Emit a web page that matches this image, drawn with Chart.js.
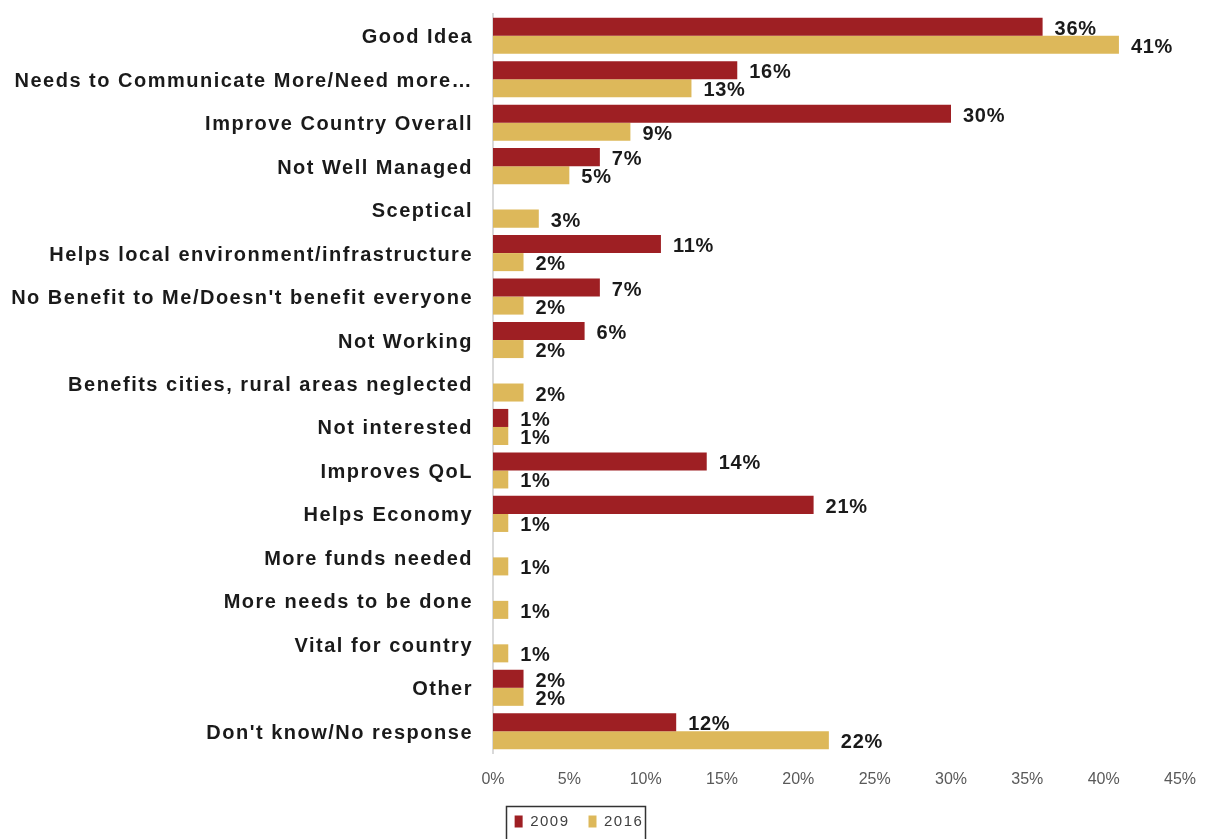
<!DOCTYPE html>
<html>
<head>
<meta charset="utf-8">
<script src="https://cdn.jsdelivr.net/npm/chart.js@4/dist/chart.umd.min.js"></script>
<style>
  html, body { margin: 0; padding: 0; background: #ffffff; }
  #wrap { width: 1205px; height: 839px; }
</style>
</head>
<body>
<div id="wrap"><canvas id="chart" width="1205" height="839"></canvas></div>
<script>
// Survey answers, one row per response category
const categories = [
  'Good Idea',
  'Needs to Communicate More/Need more\u2026',
  'Improve Country Overall',
  'Not Well Managed',
  'Sceptical',
  'Helps local environment/infrastructure',
  "No Benefit to Me/Doesn't benefit everyone",
  'Not Working',
  'Benefits cities, rural areas neglected',
  'Not interested',
  'Improves QoL',
  'Helps Economy',
  'More funds needed',
  'More needs to be done',
  'Vital for country',
  'Other',
  "Don't know/No response"
];

// Share of respondents (%) per year; null = no answer in that year
const values2009 = [36, 16, 30, 7, null, 11, 7, 6, null, 1, 14, 21, null, null, null, 2, 12];
const values2016 = [41, 13, 9, 5, 3, 2, 2, 2, 2, 1, 1, 1, 1, 1, 1, 2, 22];

const seriesNames = ['2009', '2016'];
const xTickValues = [0, 5, 10, 15, 20, 25, 30, 35, 40, 45];

const RED = '#9e1f23';
const GOLD = '#ddb85a';
const SPACING = '1.5px';
const SANS = '"Liberation Sans", Arial, sans-serif';

// Tracked-out lettering for the category labels and legend
const tracking = {
  id: 'tracking',
  beforeLayout(chart) { chart.ctx.letterSpacing = SPACING; },
  beforeDraw(chart) {
    chart.ctx.letterSpacing = SPACING;
    const xs = chart.scales.x;
    if (xs && !xs._plainLabels) {
      // axis percentages use normal spacing
      const draw = xs.drawLabels;
      xs.drawLabels = function (area) {
        this.ctx.letterSpacing = '0px';
        draw.call(this, area);
        this.ctx.letterSpacing = SPACING;
      };
      xs._plainLabels = true;
    }
  }
};

// Percentage labels at the end of each bar
const valueLabels = {
  id: 'valueLabels',
  afterDatasetsDraw(chart) {
    const ctx = chart.ctx;
    ctx.save();
    ctx.letterSpacing = '0.7px';
    ctx.font = 'bold 20px ' + SANS;
    ctx.fillStyle = '#1a1a1a';
    ctx.textAlign = 'left';
    ctx.textBaseline = 'middle';
    chart.data.datasets.forEach((ds, di) => {
      const meta = chart.getDatasetMeta(di);
      meta.data.forEach((bar, i) => {
        const v = ds.data[i];
        if (v == null) return;
        ctx.fillText(v + '%', bar.x + 12, bar.y + 2.5);
      });
    });
    ctx.restore();
  }
};

// Legend sits a little left of centre and is framed by a box
const legendFrame = {
  id: 'legendFrame',
  afterLayout(chart) {
    const lg = chart.legend;
    if (!lg) return;
    lg.left -= 11;
    lg.right -= 11;
  },
  afterDraw(chart) {
    const lg = chart.legend;
    if (!lg || !lg.legendHitBoxes || !lg.legendHitBoxes.length) return;
    const boxes = lg.legendHitBoxes;
    const first = boxes[0];
    const last = boxes[boxes.length - 1];
    const ctx = chart.ctx;
    ctx.save();
    ctx.strokeStyle = '#333333';
    ctx.lineWidth = 1.5;
    const x0 = Math.round(first.left - 9) + 0.5;
    const x1 = Math.round(last.left + last.width + 2) + 0.5;
    const y0 = Math.round(first.top + first.height / 2 - 16) + 0.5;
    ctx.strokeRect(x0, y0, x1 - x0, chart.height - y0 + 10);
    ctx.restore();
  }
};

new Chart(document.getElementById('chart'), {
  type: 'bar',
  data: {
    labels: categories,
    datasets: [
      { label: seriesNames[0], data: values2009, backgroundColor: RED, borderWidth: 0 },
      { label: seriesNames[1], data: values2016, backgroundColor: GOLD, borderWidth: 0 }
    ]
  },
  options: {
    indexAxis: 'y',
    responsive: false,
    animation: false,
    devicePixelRatio: 1,
    categoryPercentage: 0.83,
    barPercentage: 1.0,
    layout: { padding: { top: 14, right: 25, left: 0, bottom: 0 } },
    plugins: {
      tooltip: { enabled: false },
      legend: {
        position: 'bottom',
        labels: {
          boxWidth: 8,
          boxHeight: 12,
          padding: 10,
          color: '#404040',
          font: { family: SANS, size: 15 },
          generateLabels(chart) {
            const items = Chart.defaults.plugins.legend.labels.generateLabels(chart);
            // a little extra room between the two entries
            items.forEach((it, i) => { if (i < items.length - 1) it.text += '\u2002'; });
            return items;
          }
        }
      }
    },
    scales: {
      x: {
        min: 0,
        max: 45,
        afterBuildTicks(scale) { scale.ticks = xTickValues.map(v => ({ value: v })); },
        afterFit(scale) {
          scale.height = 51;
          scale.paddingLeft = 0;
          scale.paddingRight = 0;
        },
        ticks: {
          callback: v => v + '%',
          color: '#595959',
          padding: 17,
          maxRotation: 0,
          font: { family: SANS, size: 16 }
        },
        grid: { display: false, drawTicks: false },
        border: { display: false }
      },
      y: {
        afterFit(scale) {
          scale.width = 493;
          scale.paddingTop = 0;
          scale.paddingBottom = 0;
        },
        ticks: {
          color: '#1a1a1a',
          padding: 20,
          labelOffset: 2,
          autoSkip: false,
          font: { family: SANS, size: 20, weight: 'bold' }
        },
        grid: { display: false, drawTicks: false },
        border: { display: true, color: '#d9d9d9', width: 2 }
      }
    }
  },
  plugins: [tracking, valueLabels, legendFrame]
});
</script>
</body>
</html>
